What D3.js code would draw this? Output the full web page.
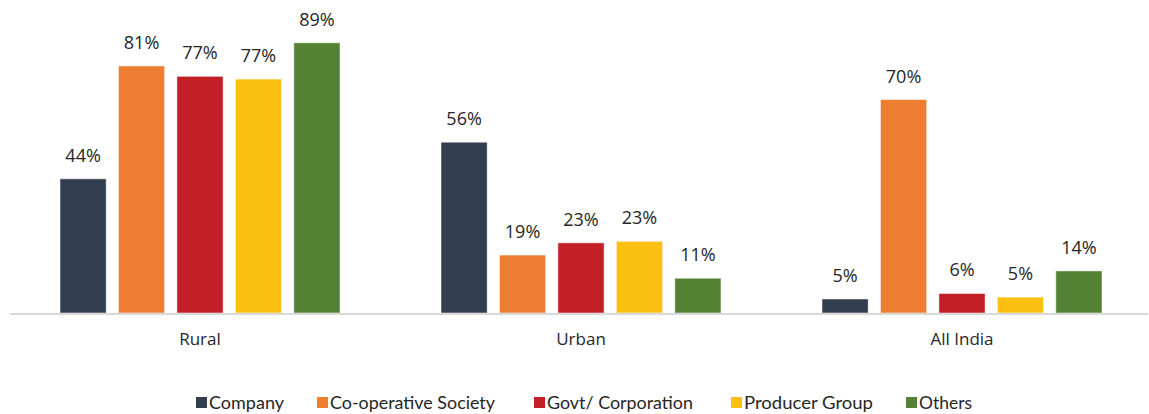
<!DOCTYPE html>
<html>
<head>
<meta charset="utf-8">
<script src="https://cdn.jsdelivr.net/npm/d3@7"></script>
<style>
  body { margin: 0; background: #fff; }
  svg { display: block; }
</style>
</head>
<body>
<div id="chart"></div>
<script>
const categories = ["Rural", "Urban", "All India"];
const series = ["Company", "Co-operative Society", "Govt/ Corporation", "Producer Group", "Others"];
const barColors = ["#323e4f", "#ed7d31", "#c21f26", "#fbc012", "#548235"];
const valuesCompany = [44, 56, 4.6];
const valuesCoop = [81, 19, 70];
const valuesGovt = [77.6, 23, 6.4];
const valuesProducer = [76.7, 23.5, 5.2];
const valuesOthers = [88.6, 11.4, 13.8];
const labelsCompany = ["44%", "56%", "5%"];
const labelsCoop = ["81%", "19%", "70%"];
const labelsGovt = ["77%", "23%", "6%"];
const labelsProducer = ["77%", "23%", "5%"];
const labelsOthers = ["89%", "11%", "14%"];

const allValues = [valuesCompany, valuesCoop, valuesGovt, valuesProducer, valuesOthers];
const allLabels = [labelsCompany, labelsCoop, labelsGovt, labelsProducer, labelsOthers];

const W = 1149, H = 414;
const svg = d3.select("#chart").append("svg").attr("width", W).attr("height", H);

const baseline = 313;
const y = d3.scaleLinear().domain([0, 100]).range([baseline, 8]);
const x0 = d3.scaleBand().domain(categories).range([9.5, 1152.5]).paddingInner(0).paddingOuter(0);
const x1 = d3.scaleBand().domain(series).range([50.5, 330.5]).paddingInner(0.21).paddingOuter(0);

const data = [];
categories.forEach((c, ci) => {
  series.forEach((s, si) => {
    data.push({cat: c, ser: s, si, v: allValues[si][ci], label: allLabels[si][ci]});
  });
});

const g = svg.append("g");
g.selectAll("rect.bar").data(data).enter().append("rect")
  .attr("class", "bar")
  .attr("x", d => x0(d.cat) + x1(d.ser))
  .attr("y", d => y(d.v))
  .attr("width", x1.bandwidth())
  .attr("height", d => baseline - y(d.v))
  .attr("fill", d => barColors[d.si])
  .attr("stroke", "#ffffff")
  .attr("stroke-opacity", 0.5)
  .attr("stroke-width", 1);

g.selectAll("text.val").data(data).enter().append("text")
  .attr("class", "val")
  .attr("x", d => x0(d.cat) + x1(d.ser) + x1.bandwidth() / 2)
  .attr("y", d => y(d.v) - 17)
  .attr("text-anchor", "middle")
  .attr("font-family", "'Open Sans', sans-serif")
  .attr("font-size", 18)
  .attr("fill", "#262626")
  .text(d => d.label);

// axis
const xAxis = d3.axisBottom(x0).tickSize(0).tickPadding(0);
const axG = svg.append("g").attr("transform", `translate(0,${baseline + 1})`).call(xAxis);
axG.attr("font-size", null).attr("font-family", null);
axG.select(".domain").attr("d", `M10,0H1148`).attr("stroke", "#d9d9d9").attr("stroke-width", 2);
axG.selectAll(".tick text")
  .attr("y", 31)
  .attr("dy", 0)
  .attr("font-family", "'Open Sans', sans-serif")
  .attr("font-size", 17)
  .attr("fill", "#262626");

// legend
const legendX = [196, 317, 534, 731, 906];
const legendW = [75, 165, 146, 129, 53];
const leg = svg.append("g");
series.forEach((s, i) => {
  const lg = leg.append("g").attr("transform", `translate(${legendX[i]},397)`);
  lg.append("rect").attr("x", 0).attr("y", 0).attr("width", 11).attr("height", 11).attr("fill", barColors[i]);
  lg.append("text").attr("x", 13).attr("y", 11.5)
    .attr("font-family", "Lato, sans-serif")
    .attr("font-size", 17)
    .attr("fill", "#262626")
    .attr("textLength", legendW[i])
    .attr("lengthAdjust", "spacingAndGlyphs")
    .text(s);
});
</script>
</body>
</html>
